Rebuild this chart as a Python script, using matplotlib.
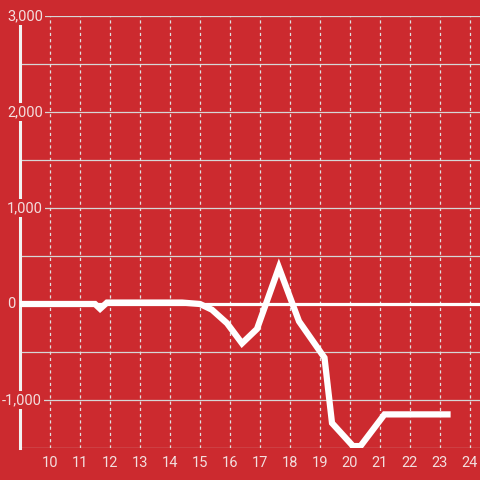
import matplotlib.pyplot as plt
from matplotlib.ticker import FuncFormatter

# data
hours = [9, 11.5, 11.67, 11.9, 14.4, 15.0, 15.4, 15.9, 16.4, 16.9, 17.63, 18.3,
         19.15, 19.4, 20.1, 20.35, 21.15, 23.25]
values = [0, 0, -50, 15, 15, 0, -60, -200, -410, -260, 380, -180,
          -560, -1240, -1480, -1480, -1150, -1150]
x_ticks = list(range(10, 25))
y_labels = [3000, 2000, 1000, 0, -1000]
y_grid = list(range(-1500, 3001, 500))

bg = '#cc2a2f'
txt = '#f3dede'
plt.rcParams['font.family'] = ['Roboto', 'DejaVu Sans']

fig = plt.figure(figsize=(4.8, 4.8), dpi=100, facecolor=bg)
ax = fig.add_axes([20 / 480, 32 / 480, 460 / 480, 432 / 480], facecolor=bg)
ax.set_xlim(9, 9 + 460 / 30)
ax.set_ylim(-1500, 3000)

# horizontal grid
for v in y_grid:
    if v == 0:
        ax.axhline(v, color='white', lw=2.3, zorder=2)
    else:
        ax.axhline(v, color='#d6d6d6', lw=0.9, zorder=1)

# vertical dotted grid
for x in x_ticks:
    ax.axvline(x, color='#e0e0e0', lw=0.9, ls=(0, (2.5, 2.5)), zorder=1)

ax.plot(hours, values, color='white', lw=4.5, solid_joinstyle='miter', zorder=6)

for s in ['top', 'right', 'bottom']:
    ax.spines[s].set_visible(False)
ax.spines['left'].set_color('#f2f2f2')
ax.spines['left'].set_linewidth(2.2)
ax.spines['left'].set_zorder(4)

ax.set_xticks(x_ticks)
ax.tick_params(axis='x', length=0, pad=6, labelsize=10.5, colors=txt)
ax.set_yticks([])

# y labels: left aligned, minus sign hangs out to the left
fmt = FuncFormatter(lambda v, p: f'{int(v):,}')
for v in y_labels:
    xpix = 7 if v >= 0 else 2
    ax.text((xpix - 20) / 460, v, fmt(v), transform=ax.get_yaxis_transform(),
            ha='left', va='center', fontsize=10.5, color=txt, zorder=5,
            bbox=dict(boxstyle='square,pad=0.15', fc=bg, ec='none'))

fig.savefig('out.png', dpi=100, facecolor=bg)
